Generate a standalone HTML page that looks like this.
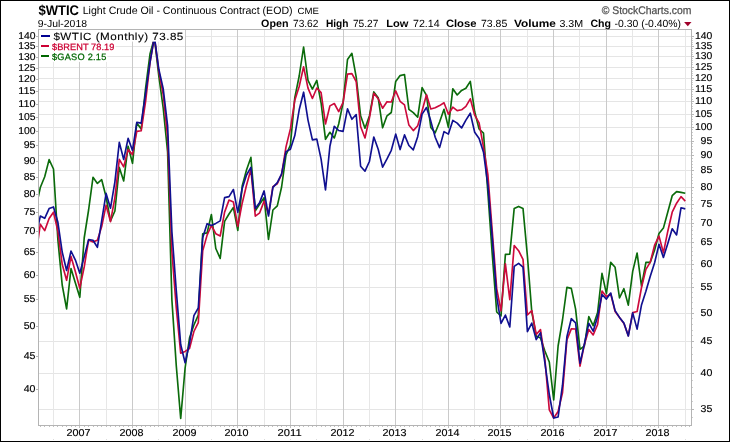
<!DOCTYPE html><html><head><meta charset="utf-8"><title>$WTIC</title>
<style>html,body{margin:0;padding:0;background:#fff}svg{display:block;will-change:transform;opacity:0.999}text.ax{stroke:#000;stroke-width:0.15px}text{text-rendering:geometricPrecision;font-family:"Liberation Sans",sans-serif;fill:#000}</style></head><body>
<svg width="730" height="442" viewBox="0 0 730 442">
<rect x="0" y="0" width="730" height="442" fill="#fff"/>
<g shape-rendering="crispEdges"><line x1="39" x2="691" y1="36.5" y2="36.5" stroke="#e5e5e5" stroke-width="1"/><line x1="39" x2="691" y1="46.5" y2="46.5" stroke="#e5e5e5" stroke-width="1"/><line x1="39" x2="691" y1="56.5" y2="56.5" stroke="#e5e5e5" stroke-width="1"/><line x1="39" x2="691" y1="67.5" y2="67.5" stroke="#e5e5e5" stroke-width="1"/><line x1="39" x2="691" y1="78.5" y2="78.5" stroke="#e5e5e5" stroke-width="1"/><line x1="39" x2="691" y1="89.5" y2="89.5" stroke="#e5e5e5" stroke-width="1"/><line x1="39" x2="691" y1="101.5" y2="101.5" stroke="#e5e5e5" stroke-width="1"/><line x1="39" x2="691" y1="114.5" y2="114.5" stroke="#e5e5e5" stroke-width="1"/><line x1="39" x2="691" y1="127.5" y2="127.5" stroke="#e5e5e5" stroke-width="1"/><line x1="39" x2="691" y1="141.5" y2="141.5" stroke="#e5e5e5" stroke-width="1"/><line x1="39" x2="691" y1="155.5" y2="155.5" stroke="#e5e5e5" stroke-width="1"/><line x1="39" x2="691" y1="170.5" y2="170.5" stroke="#e5e5e5" stroke-width="1"/><line x1="39" x2="691" y1="187.5" y2="187.5" stroke="#e5e5e5" stroke-width="1"/><line x1="39" x2="691" y1="204.5" y2="204.5" stroke="#e5e5e5" stroke-width="1"/><line x1="39" x2="691" y1="223.5" y2="223.5" stroke="#e5e5e5" stroke-width="1"/><line x1="39" x2="691" y1="242.5" y2="242.5" stroke="#e5e5e5" stroke-width="1"/><line x1="39" x2="691" y1="264.5" y2="264.5" stroke="#e5e5e5" stroke-width="1"/><line x1="39" x2="691" y1="287.5" y2="287.5" stroke="#e5e5e5" stroke-width="1"/><line x1="39" x2="691" y1="313.5" y2="313.5" stroke="#e5e5e5" stroke-width="1"/><line x1="39" x2="691" y1="341.5" y2="341.5" stroke="#e5e5e5" stroke-width="1"/><line x1="39" x2="691" y1="373.5" y2="373.5" stroke="#e5e5e5" stroke-width="1"/><line x1="39" x2="691" y1="409.5" y2="409.5" stroke="#e5e5e5" stroke-width="1"/><line x1="79.5" x2="79.5" y1="30" y2="425" stroke="#cacaca" stroke-width="1"/><line x1="132.5" x2="132.5" y1="30" y2="425" stroke="#cacaca" stroke-width="1"/><line x1="185.5" x2="185.5" y1="30" y2="425" stroke="#cacaca" stroke-width="1"/><line x1="237.5" x2="237.5" y1="30" y2="425" stroke="#cacaca" stroke-width="1"/><line x1="290.5" x2="290.5" y1="30" y2="425" stroke="#cacaca" stroke-width="1"/><line x1="343.5" x2="343.5" y1="30" y2="425" stroke="#cacaca" stroke-width="1"/><line x1="395.5" x2="395.5" y1="30" y2="425" stroke="#cacaca" stroke-width="1"/><line x1="448.5" x2="448.5" y1="30" y2="425" stroke="#cacaca" stroke-width="1"/><line x1="500.5" x2="500.5" y1="30" y2="425" stroke="#cacaca" stroke-width="1"/><line x1="553.5" x2="553.5" y1="30" y2="425" stroke="#cacaca" stroke-width="1"/><line x1="606.5" x2="606.5" y1="30" y2="425" stroke="#cacaca" stroke-width="1"/><line x1="658.5" x2="658.5" y1="30" y2="425" stroke="#cacaca" stroke-width="1"/><line x1="53.5" x2="53.5" y1="30" y2="425" stroke="#e7e7e7" stroke-width="1"/><line x1="106.5" x2="106.5" y1="30" y2="425" stroke="#e7e7e7" stroke-width="1"/><line x1="158.5" x2="158.5" y1="30" y2="425" stroke="#e7e7e7" stroke-width="1"/><line x1="211.5" x2="211.5" y1="30" y2="425" stroke="#e7e7e7" stroke-width="1"/><line x1="264.5" x2="264.5" y1="30" y2="425" stroke="#e7e7e7" stroke-width="1"/><line x1="316.5" x2="316.5" y1="30" y2="425" stroke="#e7e7e7" stroke-width="1"/><line x1="369.5" x2="369.5" y1="30" y2="425" stroke="#e7e7e7" stroke-width="1"/><line x1="422.5" x2="422.5" y1="30" y2="425" stroke="#e7e7e7" stroke-width="1"/><line x1="474.5" x2="474.5" y1="30" y2="425" stroke="#e7e7e7" stroke-width="1"/><line x1="527.5" x2="527.5" y1="30" y2="425" stroke="#e7e7e7" stroke-width="1"/><line x1="579.5" x2="579.5" y1="30" y2="425" stroke="#e7e7e7" stroke-width="1"/><line x1="632.5" x2="632.5" y1="30" y2="425" stroke="#e7e7e7" stroke-width="1"/><line x1="685.5" x2="685.5" y1="30" y2="425" stroke="#e7e7e7" stroke-width="1"/></g>
<rect x="38.5" y="29.5" width="653" height="396" fill="none" stroke="#b4b4b4" stroke-width="1" shape-rendering="crispEdges"/>
<g shape-rendering="crispEdges"><line x1="36" x2="38" y1="36.5" y2="36.5" stroke="#b8b8b8"/><line x1="692" x2="694" y1="36.5" y2="36.5" stroke="#b8b8b8"/><line x1="36" x2="38" y1="46.5" y2="46.5" stroke="#b8b8b8"/><line x1="692" x2="694" y1="46.5" y2="46.5" stroke="#b8b8b8"/><line x1="36" x2="38" y1="57.5" y2="57.5" stroke="#b8b8b8"/><line x1="692" x2="694" y1="56.5" y2="56.5" stroke="#b8b8b8"/><line x1="36" x2="38" y1="68.5" y2="68.5" stroke="#b8b8b8"/><line x1="692" x2="694" y1="67.5" y2="67.5" stroke="#b8b8b8"/><line x1="36" x2="38" y1="79.5" y2="79.5" stroke="#b8b8b8"/><line x1="692" x2="694" y1="78.5" y2="78.5" stroke="#b8b8b8"/><line x1="36" x2="38" y1="91.5" y2="91.5" stroke="#b8b8b8"/><line x1="692" x2="694" y1="89.5" y2="89.5" stroke="#b8b8b8"/><line x1="36" x2="38" y1="104.5" y2="104.5" stroke="#b8b8b8"/><line x1="692" x2="694" y1="101.5" y2="101.5" stroke="#b8b8b8"/><line x1="36" x2="38" y1="117.5" y2="117.5" stroke="#b8b8b8"/><line x1="692" x2="694" y1="114.5" y2="114.5" stroke="#b8b8b8"/><line x1="36" x2="38" y1="131.5" y2="131.5" stroke="#b8b8b8"/><line x1="692" x2="694" y1="127.5" y2="127.5" stroke="#b8b8b8"/><line x1="36" x2="38" y1="145.5" y2="145.5" stroke="#b8b8b8"/><line x1="692" x2="694" y1="141.5" y2="141.5" stroke="#b8b8b8"/><line x1="36" x2="38" y1="161.5" y2="161.5" stroke="#b8b8b8"/><line x1="692" x2="694" y1="155.5" y2="155.5" stroke="#b8b8b8"/><line x1="36" x2="38" y1="177.5" y2="177.5" stroke="#b8b8b8"/><line x1="692" x2="694" y1="170.5" y2="170.5" stroke="#b8b8b8"/><line x1="36" x2="38" y1="194.5" y2="194.5" stroke="#b8b8b8"/><line x1="692" x2="694" y1="187.5" y2="187.5" stroke="#b8b8b8"/><line x1="36" x2="38" y1="212.5" y2="212.5" stroke="#b8b8b8"/><line x1="692" x2="694" y1="204.5" y2="204.5" stroke="#b8b8b8"/><line x1="36" x2="38" y1="231.5" y2="231.5" stroke="#b8b8b8"/><line x1="692" x2="694" y1="223.5" y2="223.5" stroke="#b8b8b8"/><line x1="36" x2="38" y1="252.5" y2="252.5" stroke="#b8b8b8"/><line x1="692" x2="694" y1="242.5" y2="242.5" stroke="#b8b8b8"/><line x1="36" x2="38" y1="275.5" y2="275.5" stroke="#b8b8b8"/><line x1="692" x2="694" y1="264.5" y2="264.5" stroke="#b8b8b8"/><line x1="36" x2="38" y1="299.5" y2="299.5" stroke="#b8b8b8"/><line x1="692" x2="694" y1="287.5" y2="287.5" stroke="#b8b8b8"/><line x1="36" x2="38" y1="326.5" y2="326.5" stroke="#b8b8b8"/><line x1="692" x2="694" y1="313.5" y2="313.5" stroke="#b8b8b8"/><line x1="36" x2="38" y1="356.5" y2="356.5" stroke="#b8b8b8"/><line x1="692" x2="694" y1="341.5" y2="341.5" stroke="#b8b8b8"/><line x1="36" x2="38" y1="389.5" y2="389.5" stroke="#b8b8b8"/><line x1="692" x2="694" y1="373.5" y2="373.5" stroke="#b8b8b8"/><line x1="692" x2="694" y1="409.5" y2="409.5" stroke="#b8b8b8"/><line x1="692" x2="693" y1="417.5" y2="417.5" stroke="#cfcfcf"/><line x1="692" x2="693" y1="401.5" y2="401.5" stroke="#cfcfcf"/><line x1="692" x2="693" y1="394.5" y2="394.5" stroke="#cfcfcf"/><line x1="692" x2="693" y1="387.5" y2="387.5" stroke="#cfcfcf"/><line x1="692" x2="693" y1="380.5" y2="380.5" stroke="#cfcfcf"/><line x1="692" x2="693" y1="366.5" y2="366.5" stroke="#cfcfcf"/><line x1="692" x2="693" y1="360.5" y2="360.5" stroke="#cfcfcf"/><line x1="692" x2="693" y1="354.5" y2="354.5" stroke="#cfcfcf"/><line x1="692" x2="693" y1="347.5" y2="347.5" stroke="#cfcfcf"/><line x1="692" x2="693" y1="335.5" y2="335.5" stroke="#cfcfcf"/><line x1="692" x2="693" y1="330.5" y2="330.5" stroke="#cfcfcf"/><line x1="692" x2="693" y1="324.5" y2="324.5" stroke="#cfcfcf"/><line x1="692" x2="693" y1="318.5" y2="318.5" stroke="#cfcfcf"/><line x1="692" x2="693" y1="308.5" y2="308.5" stroke="#cfcfcf"/><line x1="692" x2="693" y1="302.5" y2="302.5" stroke="#cfcfcf"/><line x1="692" x2="693" y1="297.5" y2="297.5" stroke="#cfcfcf"/><line x1="692" x2="693" y1="292.5" y2="292.5" stroke="#cfcfcf"/><line x1="692" x2="693" y1="283.5" y2="283.5" stroke="#cfcfcf"/><line x1="692" x2="693" y1="278.5" y2="278.5" stroke="#cfcfcf"/><line x1="692" x2="693" y1="273.5" y2="273.5" stroke="#cfcfcf"/><line x1="692" x2="693" y1="269.5" y2="269.5" stroke="#cfcfcf"/><line x1="692" x2="693" y1="260.5" y2="260.5" stroke="#cfcfcf"/><line x1="692" x2="693" y1="255.5" y2="255.5" stroke="#cfcfcf"/><line x1="692" x2="693" y1="251.5" y2="251.5" stroke="#cfcfcf"/><line x1="692" x2="693" y1="247.5" y2="247.5" stroke="#cfcfcf"/><line x1="692" x2="693" y1="238.5" y2="238.5" stroke="#cfcfcf"/><line x1="692" x2="693" y1="234.5" y2="234.5" stroke="#cfcfcf"/><line x1="692" x2="693" y1="230.5" y2="230.5" stroke="#cfcfcf"/><line x1="692" x2="693" y1="226.5" y2="226.5" stroke="#cfcfcf"/><line x1="692" x2="693" y1="219.5" y2="219.5" stroke="#cfcfcf"/><line x1="692" x2="693" y1="215.5" y2="215.5" stroke="#cfcfcf"/><line x1="692" x2="693" y1="211.5" y2="211.5" stroke="#cfcfcf"/><line x1="692" x2="693" y1="208.5" y2="208.5" stroke="#cfcfcf"/><line x1="692" x2="693" y1="200.5" y2="200.5" stroke="#cfcfcf"/><line x1="692" x2="693" y1="197.5" y2="197.5" stroke="#cfcfcf"/><line x1="692" x2="693" y1="193.5" y2="193.5" stroke="#cfcfcf"/><line x1="692" x2="693" y1="190.5" y2="190.5" stroke="#cfcfcf"/><line x1="692" x2="693" y1="183.5" y2="183.5" stroke="#cfcfcf"/><line x1="692" x2="693" y1="180.5" y2="180.5" stroke="#cfcfcf"/><line x1="692" x2="693" y1="177.5" y2="177.5" stroke="#cfcfcf"/><line x1="692" x2="693" y1="174.5" y2="174.5" stroke="#cfcfcf"/><line x1="692" x2="693" y1="167.5" y2="167.5" stroke="#cfcfcf"/><line x1="692" x2="693" y1="164.5" y2="164.5" stroke="#cfcfcf"/><line x1="692" x2="693" y1="161.5" y2="161.5" stroke="#cfcfcf"/><line x1="692" x2="693" y1="158.5" y2="158.5" stroke="#cfcfcf"/><line x1="692" x2="693" y1="152.5" y2="152.5" stroke="#cfcfcf"/><line x1="692" x2="693" y1="149.5" y2="149.5" stroke="#cfcfcf"/><line x1="692" x2="693" y1="146.5" y2="146.5" stroke="#cfcfcf"/><line x1="692" x2="693" y1="143.5" y2="143.5" stroke="#cfcfcf"/><line x1="692" x2="693" y1="138.5" y2="138.5" stroke="#cfcfcf"/><line x1="692" x2="693" y1="135.5" y2="135.5" stroke="#cfcfcf"/><line x1="692" x2="693" y1="132.5" y2="132.5" stroke="#cfcfcf"/><line x1="692" x2="693" y1="129.5" y2="129.5" stroke="#cfcfcf"/><line x1="692" x2="693" y1="124.5" y2="124.5" stroke="#cfcfcf"/><line x1="692" x2="693" y1="121.5" y2="121.5" stroke="#cfcfcf"/><line x1="692" x2="693" y1="119.5" y2="119.5" stroke="#cfcfcf"/><line x1="692" x2="693" y1="116.5" y2="116.5" stroke="#cfcfcf"/><line x1="692" x2="693" y1="111.5" y2="111.5" stroke="#cfcfcf"/><line x1="692" x2="693" y1="108.5" y2="108.5" stroke="#cfcfcf"/><line x1="692" x2="693" y1="106.5" y2="106.5" stroke="#cfcfcf"/><line x1="692" x2="693" y1="103.5" y2="103.5" stroke="#cfcfcf"/><line x1="692" x2="693" y1="99.5" y2="99.5" stroke="#cfcfcf"/><line x1="692" x2="693" y1="96.5" y2="96.5" stroke="#cfcfcf"/><line x1="692" x2="693" y1="94.5" y2="94.5" stroke="#cfcfcf"/><line x1="692" x2="693" y1="91.5" y2="91.5" stroke="#cfcfcf"/><line x1="692" x2="693" y1="87.5" y2="87.5" stroke="#cfcfcf"/><line x1="692" x2="693" y1="84.5" y2="84.5" stroke="#cfcfcf"/><line x1="692" x2="693" y1="82.5" y2="82.5" stroke="#cfcfcf"/><line x1="692" x2="693" y1="80.5" y2="80.5" stroke="#cfcfcf"/><line x1="692" x2="693" y1="75.5" y2="75.5" stroke="#cfcfcf"/><line x1="692" x2="693" y1="73.5" y2="73.5" stroke="#cfcfcf"/><line x1="692" x2="693" y1="71.5" y2="71.5" stroke="#cfcfcf"/><line x1="692" x2="693" y1="69.5" y2="69.5" stroke="#cfcfcf"/><line x1="692" x2="693" y1="64.5" y2="64.5" stroke="#cfcfcf"/><line x1="692" x2="693" y1="62.5" y2="62.5" stroke="#cfcfcf"/><line x1="692" x2="693" y1="60.5" y2="60.5" stroke="#cfcfcf"/><line x1="692" x2="693" y1="58.5" y2="58.5" stroke="#cfcfcf"/><line x1="692" x2="693" y1="54.5" y2="54.5" stroke="#cfcfcf"/><line x1="692" x2="693" y1="52.5" y2="52.5" stroke="#cfcfcf"/><line x1="692" x2="693" y1="50.5" y2="50.5" stroke="#cfcfcf"/><line x1="692" x2="693" y1="48.5" y2="48.5" stroke="#cfcfcf"/><line x1="692" x2="693" y1="44.5" y2="44.5" stroke="#cfcfcf"/><line x1="692" x2="693" y1="42.5" y2="42.5" stroke="#cfcfcf"/><line x1="692" x2="693" y1="40.5" y2="40.5" stroke="#cfcfcf"/><line x1="692" x2="693" y1="38.5" y2="38.5" stroke="#cfcfcf"/><line x1="40.5" x2="40.5" y1="426" y2="427" stroke="#c0c0c0"/><line x1="44.5" x2="44.5" y1="426" y2="427" stroke="#c0c0c0"/><line x1="49.5" x2="49.5" y1="426" y2="427" stroke="#c0c0c0"/><line x1="53.5" x2="53.5" y1="426" y2="427" stroke="#c0c0c0"/><line x1="57.5" x2="57.5" y1="426" y2="427" stroke="#c0c0c0"/><line x1="62.5" x2="62.5" y1="426" y2="427" stroke="#c0c0c0"/><line x1="66.5" x2="66.5" y1="426" y2="427" stroke="#c0c0c0"/><line x1="71.5" x2="71.5" y1="426" y2="427" stroke="#c0c0c0"/><line x1="75.5" x2="75.5" y1="426" y2="427" stroke="#c0c0c0"/><line x1="79.5" x2="79.5" y1="426" y2="428" stroke="#c0c0c0"/><line x1="84.5" x2="84.5" y1="426" y2="427" stroke="#c0c0c0"/><line x1="88.5" x2="88.5" y1="426" y2="427" stroke="#c0c0c0"/><line x1="93.5" x2="93.5" y1="426" y2="427" stroke="#c0c0c0"/><line x1="97.5" x2="97.5" y1="426" y2="427" stroke="#c0c0c0"/><line x1="101.5" x2="101.5" y1="426" y2="427" stroke="#c0c0c0"/><line x1="106.5" x2="106.5" y1="426" y2="427" stroke="#c0c0c0"/><line x1="110.5" x2="110.5" y1="426" y2="427" stroke="#c0c0c0"/><line x1="115.5" x2="115.5" y1="426" y2="427" stroke="#c0c0c0"/><line x1="119.5" x2="119.5" y1="426" y2="427" stroke="#c0c0c0"/><line x1="123.5" x2="123.5" y1="426" y2="427" stroke="#c0c0c0"/><line x1="128.5" x2="128.5" y1="426" y2="427" stroke="#c0c0c0"/><line x1="132.5" x2="132.5" y1="426" y2="428" stroke="#c0c0c0"/><line x1="136.5" x2="136.5" y1="426" y2="427" stroke="#c0c0c0"/><line x1="141.5" x2="141.5" y1="426" y2="427" stroke="#c0c0c0"/><line x1="145.5" x2="145.5" y1="426" y2="427" stroke="#c0c0c0"/><line x1="150.5" x2="150.5" y1="426" y2="427" stroke="#c0c0c0"/><line x1="154.5" x2="154.5" y1="426" y2="427" stroke="#c0c0c0"/><line x1="158.5" x2="158.5" y1="426" y2="427" stroke="#c0c0c0"/><line x1="163.5" x2="163.5" y1="426" y2="427" stroke="#c0c0c0"/><line x1="167.5" x2="167.5" y1="426" y2="427" stroke="#c0c0c0"/><line x1="172.5" x2="172.5" y1="426" y2="427" stroke="#c0c0c0"/><line x1="176.5" x2="176.5" y1="426" y2="427" stroke="#c0c0c0"/><line x1="180.5" x2="180.5" y1="426" y2="427" stroke="#c0c0c0"/><line x1="185.5" x2="185.5" y1="426" y2="428" stroke="#c0c0c0"/><line x1="189.5" x2="189.5" y1="426" y2="427" stroke="#c0c0c0"/><line x1="193.5" x2="193.5" y1="426" y2="427" stroke="#c0c0c0"/><line x1="198.5" x2="198.5" y1="426" y2="427" stroke="#c0c0c0"/><line x1="202.5" x2="202.5" y1="426" y2="427" stroke="#c0c0c0"/><line x1="207.5" x2="207.5" y1="426" y2="427" stroke="#c0c0c0"/><line x1="211.5" x2="211.5" y1="426" y2="427" stroke="#c0c0c0"/><line x1="215.5" x2="215.5" y1="426" y2="427" stroke="#c0c0c0"/><line x1="220.5" x2="220.5" y1="426" y2="427" stroke="#c0c0c0"/><line x1="224.5" x2="224.5" y1="426" y2="427" stroke="#c0c0c0"/><line x1="229.5" x2="229.5" y1="426" y2="427" stroke="#c0c0c0"/><line x1="233.5" x2="233.5" y1="426" y2="427" stroke="#c0c0c0"/><line x1="237.5" x2="237.5" y1="426" y2="428" stroke="#c0c0c0"/><line x1="242.5" x2="242.5" y1="426" y2="427" stroke="#c0c0c0"/><line x1="246.5" x2="246.5" y1="426" y2="427" stroke="#c0c0c0"/><line x1="251.5" x2="251.5" y1="426" y2="427" stroke="#c0c0c0"/><line x1="255.5" x2="255.5" y1="426" y2="427" stroke="#c0c0c0"/><line x1="259.5" x2="259.5" y1="426" y2="427" stroke="#c0c0c0"/><line x1="264.5" x2="264.5" y1="426" y2="427" stroke="#c0c0c0"/><line x1="268.5" x2="268.5" y1="426" y2="427" stroke="#c0c0c0"/><line x1="272.5" x2="272.5" y1="426" y2="427" stroke="#c0c0c0"/><line x1="277.5" x2="277.5" y1="426" y2="427" stroke="#c0c0c0"/><line x1="281.5" x2="281.5" y1="426" y2="427" stroke="#c0c0c0"/><line x1="286.5" x2="286.5" y1="426" y2="427" stroke="#c0c0c0"/><line x1="290.5" x2="290.5" y1="426" y2="428" stroke="#c0c0c0"/><line x1="294.5" x2="294.5" y1="426" y2="427" stroke="#c0c0c0"/><line x1="299.5" x2="299.5" y1="426" y2="427" stroke="#c0c0c0"/><line x1="303.5" x2="303.5" y1="426" y2="427" stroke="#c0c0c0"/><line x1="308.5" x2="308.5" y1="426" y2="427" stroke="#c0c0c0"/><line x1="312.5" x2="312.5" y1="426" y2="427" stroke="#c0c0c0"/><line x1="316.5" x2="316.5" y1="426" y2="427" stroke="#c0c0c0"/><line x1="321.5" x2="321.5" y1="426" y2="427" stroke="#c0c0c0"/><line x1="325.5" x2="325.5" y1="426" y2="427" stroke="#c0c0c0"/><line x1="330.5" x2="330.5" y1="426" y2="427" stroke="#c0c0c0"/><line x1="334.5" x2="334.5" y1="426" y2="427" stroke="#c0c0c0"/><line x1="338.5" x2="338.5" y1="426" y2="427" stroke="#c0c0c0"/><line x1="343.5" x2="343.5" y1="426" y2="428" stroke="#c0c0c0"/><line x1="347.5" x2="347.5" y1="426" y2="427" stroke="#c0c0c0"/><line x1="351.5" x2="351.5" y1="426" y2="427" stroke="#c0c0c0"/><line x1="356.5" x2="356.5" y1="426" y2="427" stroke="#c0c0c0"/><line x1="360.5" x2="360.5" y1="426" y2="427" stroke="#c0c0c0"/><line x1="365.5" x2="365.5" y1="426" y2="427" stroke="#c0c0c0"/><line x1="369.5" x2="369.5" y1="426" y2="427" stroke="#c0c0c0"/><line x1="373.5" x2="373.5" y1="426" y2="427" stroke="#c0c0c0"/><line x1="378.5" x2="378.5" y1="426" y2="427" stroke="#c0c0c0"/><line x1="382.5" x2="382.5" y1="426" y2="427" stroke="#c0c0c0"/><line x1="387.5" x2="387.5" y1="426" y2="427" stroke="#c0c0c0"/><line x1="391.5" x2="391.5" y1="426" y2="427" stroke="#c0c0c0"/><line x1="395.5" x2="395.5" y1="426" y2="428" stroke="#c0c0c0"/><line x1="400.5" x2="400.5" y1="426" y2="427" stroke="#c0c0c0"/><line x1="404.5" x2="404.5" y1="426" y2="427" stroke="#c0c0c0"/><line x1="409.5" x2="409.5" y1="426" y2="427" stroke="#c0c0c0"/><line x1="413.5" x2="413.5" y1="426" y2="427" stroke="#c0c0c0"/><line x1="417.5" x2="417.5" y1="426" y2="427" stroke="#c0c0c0"/><line x1="422.5" x2="422.5" y1="426" y2="427" stroke="#c0c0c0"/><line x1="426.5" x2="426.5" y1="426" y2="427" stroke="#c0c0c0"/><line x1="430.5" x2="430.5" y1="426" y2="427" stroke="#c0c0c0"/><line x1="435.5" x2="435.5" y1="426" y2="427" stroke="#c0c0c0"/><line x1="439.5" x2="439.5" y1="426" y2="427" stroke="#c0c0c0"/><line x1="444.5" x2="444.5" y1="426" y2="427" stroke="#c0c0c0"/><line x1="448.5" x2="448.5" y1="426" y2="428" stroke="#c0c0c0"/><line x1="452.5" x2="452.5" y1="426" y2="427" stroke="#c0c0c0"/><line x1="457.5" x2="457.5" y1="426" y2="427" stroke="#c0c0c0"/><line x1="461.5" x2="461.5" y1="426" y2="427" stroke="#c0c0c0"/><line x1="466.5" x2="466.5" y1="426" y2="427" stroke="#c0c0c0"/><line x1="470.5" x2="470.5" y1="426" y2="427" stroke="#c0c0c0"/><line x1="474.5" x2="474.5" y1="426" y2="427" stroke="#c0c0c0"/><line x1="479.5" x2="479.5" y1="426" y2="427" stroke="#c0c0c0"/><line x1="483.5" x2="483.5" y1="426" y2="427" stroke="#c0c0c0"/><line x1="488.5" x2="488.5" y1="426" y2="427" stroke="#c0c0c0"/><line x1="492.5" x2="492.5" y1="426" y2="427" stroke="#c0c0c0"/><line x1="496.5" x2="496.5" y1="426" y2="427" stroke="#c0c0c0"/><line x1="500.5" x2="500.5" y1="426" y2="428" stroke="#c0c0c0"/><line x1="505.5" x2="505.5" y1="426" y2="427" stroke="#c0c0c0"/><line x1="509.5" x2="509.5" y1="426" y2="427" stroke="#c0c0c0"/><line x1="514.5" x2="514.5" y1="426" y2="427" stroke="#c0c0c0"/><line x1="518.5" x2="518.5" y1="426" y2="427" stroke="#c0c0c0"/><line x1="523.5" x2="523.5" y1="426" y2="427" stroke="#c0c0c0"/><line x1="527.5" x2="527.5" y1="426" y2="427" stroke="#c0c0c0"/><line x1="531.5" x2="531.5" y1="426" y2="427" stroke="#c0c0c0"/><line x1="536.5" x2="536.5" y1="426" y2="427" stroke="#c0c0c0"/><line x1="540.5" x2="540.5" y1="426" y2="427" stroke="#c0c0c0"/><line x1="545.5" x2="545.5" y1="426" y2="427" stroke="#c0c0c0"/><line x1="549.5" x2="549.5" y1="426" y2="427" stroke="#c0c0c0"/><line x1="553.5" x2="553.5" y1="426" y2="428" stroke="#c0c0c0"/><line x1="558.5" x2="558.5" y1="426" y2="427" stroke="#c0c0c0"/><line x1="562.5" x2="562.5" y1="426" y2="427" stroke="#c0c0c0"/><line x1="567.5" x2="567.5" y1="426" y2="427" stroke="#c0c0c0"/><line x1="571.5" x2="571.5" y1="426" y2="427" stroke="#c0c0c0"/><line x1="575.5" x2="575.5" y1="426" y2="427" stroke="#c0c0c0"/><line x1="580.5" x2="580.5" y1="426" y2="427" stroke="#c0c0c0"/><line x1="584.5" x2="584.5" y1="426" y2="427" stroke="#c0c0c0"/><line x1="588.5" x2="588.5" y1="426" y2="427" stroke="#c0c0c0"/><line x1="593.5" x2="593.5" y1="426" y2="427" stroke="#c0c0c0"/><line x1="597.5" x2="597.5" y1="426" y2="427" stroke="#c0c0c0"/><line x1="602.5" x2="602.5" y1="426" y2="427" stroke="#c0c0c0"/><line x1="606.5" x2="606.5" y1="426" y2="428" stroke="#c0c0c0"/><line x1="610.5" x2="610.5" y1="426" y2="427" stroke="#c0c0c0"/><line x1="615.5" x2="615.5" y1="426" y2="427" stroke="#c0c0c0"/><line x1="619.5" x2="619.5" y1="426" y2="427" stroke="#c0c0c0"/><line x1="624.5" x2="624.5" y1="426" y2="427" stroke="#c0c0c0"/><line x1="628.5" x2="628.5" y1="426" y2="427" stroke="#c0c0c0"/><line x1="632.5" x2="632.5" y1="426" y2="427" stroke="#c0c0c0"/><line x1="637.5" x2="637.5" y1="426" y2="427" stroke="#c0c0c0"/><line x1="641.5" x2="641.5" y1="426" y2="427" stroke="#c0c0c0"/><line x1="645.5" x2="645.5" y1="426" y2="427" stroke="#c0c0c0"/><line x1="650.5" x2="650.5" y1="426" y2="427" stroke="#c0c0c0"/><line x1="654.5" x2="654.5" y1="426" y2="427" stroke="#c0c0c0"/><line x1="658.5" x2="658.5" y1="426" y2="428" stroke="#c0c0c0"/><line x1="663.5" x2="663.5" y1="426" y2="427" stroke="#c0c0c0"/><line x1="667.5" x2="667.5" y1="426" y2="427" stroke="#c0c0c0"/><line x1="672.5" x2="672.5" y1="426" y2="427" stroke="#c0c0c0"/><line x1="676.5" x2="676.5" y1="426" y2="427" stroke="#c0c0c0"/><line x1="681.5" x2="681.5" y1="426" y2="427" stroke="#c0c0c0"/><line x1="685.5" x2="685.5" y1="426" y2="427" stroke="#c0c0c0"/><line x1="689.5" x2="689.5" y1="426" y2="427" stroke="#c0c0c0"/></g>
<text x="18.2" y="38.9" font-size="10" textLength="17.3" lengthAdjust="spacingAndGlyphs" class="ax">140</text>
<text x="695.1" y="38.9" font-size="10" textLength="17.3" lengthAdjust="spacingAndGlyphs" class="ax">140</text>
<text x="18.2" y="48.9" font-size="10" textLength="17.3" lengthAdjust="spacingAndGlyphs" class="ax">135</text>
<text x="695.1" y="48.9" font-size="10" textLength="17.3" lengthAdjust="spacingAndGlyphs" class="ax">135</text>
<text x="18.2" y="59.9" font-size="10" textLength="17.3" lengthAdjust="spacingAndGlyphs" class="ax">130</text>
<text x="695.1" y="58.9" font-size="10" textLength="17.3" lengthAdjust="spacingAndGlyphs" class="ax">130</text>
<text x="18.2" y="70.9" font-size="10" textLength="17.3" lengthAdjust="spacingAndGlyphs" class="ax">125</text>
<text x="695.1" y="69.9" font-size="10" textLength="17.3" lengthAdjust="spacingAndGlyphs" class="ax">125</text>
<text x="18.2" y="81.9" font-size="10" textLength="17.3" lengthAdjust="spacingAndGlyphs" class="ax">120</text>
<text x="695.1" y="80.9" font-size="10" textLength="17.3" lengthAdjust="spacingAndGlyphs" class="ax">120</text>
<text x="18.2" y="93.9" font-size="10" textLength="17.3" lengthAdjust="spacingAndGlyphs" class="ax">115</text>
<text x="695.1" y="91.9" font-size="10" textLength="17.3" lengthAdjust="spacingAndGlyphs" class="ax">115</text>
<text x="18.2" y="106.9" font-size="10" textLength="17.3" lengthAdjust="spacingAndGlyphs" class="ax">110</text>
<text x="695.1" y="103.9" font-size="10" textLength="17.3" lengthAdjust="spacingAndGlyphs" class="ax">110</text>
<text x="18.2" y="119.9" font-size="10" textLength="17.3" lengthAdjust="spacingAndGlyphs" class="ax">105</text>
<text x="695.1" y="116.9" font-size="10" textLength="17.3" lengthAdjust="spacingAndGlyphs" class="ax">105</text>
<text x="18.2" y="133.9" font-size="10" textLength="17.3" lengthAdjust="spacingAndGlyphs" class="ax">100</text>
<text x="695.1" y="129.9" font-size="10" textLength="17.3" lengthAdjust="spacingAndGlyphs" class="ax">100</text>
<text x="23.7" y="147.9" font-size="10" textLength="11.8" lengthAdjust="spacingAndGlyphs" class="ax">95</text>
<text x="700.6" y="143.9" font-size="10" textLength="11.8" lengthAdjust="spacingAndGlyphs" class="ax">95</text>
<text x="23.7" y="163.9" font-size="10" textLength="11.8" lengthAdjust="spacingAndGlyphs" class="ax">90</text>
<text x="700.6" y="157.9" font-size="10" textLength="11.8" lengthAdjust="spacingAndGlyphs" class="ax">90</text>
<text x="23.7" y="179.9" font-size="10" textLength="11.8" lengthAdjust="spacingAndGlyphs" class="ax">85</text>
<text x="700.6" y="172.9" font-size="10" textLength="11.8" lengthAdjust="spacingAndGlyphs" class="ax">85</text>
<text x="23.7" y="196.9" font-size="10" textLength="11.8" lengthAdjust="spacingAndGlyphs" class="ax">80</text>
<text x="700.6" y="189.9" font-size="10" textLength="11.8" lengthAdjust="spacingAndGlyphs" class="ax">80</text>
<text x="23.7" y="214.9" font-size="10" textLength="11.8" lengthAdjust="spacingAndGlyphs" class="ax">75</text>
<text x="700.6" y="206.9" font-size="10" textLength="11.8" lengthAdjust="spacingAndGlyphs" class="ax">75</text>
<text x="23.7" y="233.9" font-size="10" textLength="11.8" lengthAdjust="spacingAndGlyphs" class="ax">70</text>
<text x="700.6" y="225.9" font-size="10" textLength="11.8" lengthAdjust="spacingAndGlyphs" class="ax">70</text>
<text x="23.7" y="254.9" font-size="10" textLength="11.8" lengthAdjust="spacingAndGlyphs" class="ax">65</text>
<text x="700.6" y="244.9" font-size="10" textLength="11.8" lengthAdjust="spacingAndGlyphs" class="ax">65</text>
<text x="23.7" y="277.9" font-size="10" textLength="11.8" lengthAdjust="spacingAndGlyphs" class="ax">60</text>
<text x="700.6" y="266.9" font-size="10" textLength="11.8" lengthAdjust="spacingAndGlyphs" class="ax">60</text>
<text x="23.7" y="301.9" font-size="10" textLength="11.8" lengthAdjust="spacingAndGlyphs" class="ax">55</text>
<text x="700.6" y="289.9" font-size="10" textLength="11.8" lengthAdjust="spacingAndGlyphs" class="ax">55</text>
<text x="23.7" y="328.9" font-size="10" textLength="11.8" lengthAdjust="spacingAndGlyphs" class="ax">50</text>
<text x="700.6" y="315.9" font-size="10" textLength="11.8" lengthAdjust="spacingAndGlyphs" class="ax">50</text>
<text x="23.7" y="358.9" font-size="10" textLength="11.8" lengthAdjust="spacingAndGlyphs" class="ax">45</text>
<text x="700.6" y="343.9" font-size="10" textLength="11.8" lengthAdjust="spacingAndGlyphs" class="ax">45</text>
<text x="23.7" y="391.9" font-size="10" textLength="11.8" lengthAdjust="spacingAndGlyphs" class="ax">40</text>
<text x="700.6" y="375.9" font-size="10" textLength="11.8" lengthAdjust="spacingAndGlyphs" class="ax">40</text>
<text x="700.6" y="411.9" font-size="10" textLength="11.8" lengthAdjust="spacingAndGlyphs" class="ax">35</text>
<text x="66.6" y="436" font-size="10" textLength="24" lengthAdjust="spacingAndGlyphs" class="ax">2007</text>
<text x="119.6" y="436" font-size="10" textLength="24" lengthAdjust="spacingAndGlyphs" class="ax">2008</text>
<text x="172.6" y="436" font-size="10" textLength="24" lengthAdjust="spacingAndGlyphs" class="ax">2009</text>
<text x="224.6" y="436" font-size="10" textLength="24" lengthAdjust="spacingAndGlyphs" class="ax">2010</text>
<text x="277.6" y="436" font-size="10" textLength="24" lengthAdjust="spacingAndGlyphs" class="ax">2011</text>
<text x="330.6" y="436" font-size="10" textLength="24" lengthAdjust="spacingAndGlyphs" class="ax">2012</text>
<text x="382.6" y="436" font-size="10" textLength="24" lengthAdjust="spacingAndGlyphs" class="ax">2013</text>
<text x="435.6" y="436" font-size="10" textLength="24" lengthAdjust="spacingAndGlyphs" class="ax">2014</text>
<text x="487.6" y="436" font-size="10" textLength="24" lengthAdjust="spacingAndGlyphs" class="ax">2015</text>
<text x="540.6" y="436" font-size="10" textLength="24" lengthAdjust="spacingAndGlyphs" class="ax">2016</text>
<text x="593.6" y="436" font-size="10" textLength="24" lengthAdjust="spacingAndGlyphs" class="ax">2017</text>
<text x="645.6" y="436" font-size="10" textLength="24" lengthAdjust="spacingAndGlyphs" class="ax">2018</text>
<clipPath id="c"><rect x="39" y="30" width="652" height="395"/></clipPath>
<g clip-path="url(#c)">
<polyline points="35.9,208.0 40.3,187.5 44.7,176.7 49.1,159.6 53.5,169.0 57.9,240.0 62.2,285.0 66.6,308.9 71.0,268.5 75.4,283.0 79.8,297.3 84.2,238.0 88.6,210.0 93.0,177.3 97.4,183.4 101.7,179.7 106.1,197.0 110.5,221.0 114.9,211.0 119.3,167.4 123.7,181.0 128.1,146.2 132.5,163.3 136.8,123.0 141.2,129.0 145.6,88.0 150.0,54.0 154.4,38.0 158.8,76.0 163.2,108.0 167.6,152.0 171.9,300.0 176.3,366.0 180.7,418.5 185.1,368.0 189.5,338.0 193.9,325.0 198.3,315.2 202.7,233.7 207.1,232.9 211.4,214.5 215.8,248.5 220.2,258.4 224.6,221.4 229.0,214.0 233.4,207.5 237.8,230.4 242.2,186.0 246.5,170.0 250.9,157.4 255.3,210.8 259.7,204.0 264.1,197.7 268.5,239.5 272.9,210.0 277.3,205.9 281.6,187.0 286.0,155.0 290.4,145.0 294.8,97.7 299.2,76.0 303.6,47.0 308.0,80.4 312.4,89.1 316.8,80.4 321.1,103.0 325.5,139.3 329.9,132.3 334.3,138.0 338.7,124.0 343.1,102.6 347.5,59.5 351.9,53.3 356.2,77.1 360.6,115.8 365.0,128.2 369.4,116.0 373.8,91.9 378.2,97.7 382.6,127.8 387.0,115.8 391.3,112.5 395.7,81.4 400.1,75.6 404.5,74.5 408.9,109.3 413.3,112.6 417.7,117.2 422.1,87.6 426.5,95.3 430.8,127.4 435.2,132.8 439.6,122.0 444.0,109.3 448.4,127.4 452.8,88.8 457.2,95.0 461.6,90.4 465.9,88.3 470.3,81.4 474.7,111.8 479.1,129.0 483.5,133.2 487.9,193.0 492.3,255.0 496.7,312.0 501.0,316.0 505.4,254.4 509.8,254.1 514.2,208.4 518.6,206.4 523.0,208.4 527.4,256.0 531.8,312.0 536.2,336.0 540.5,338.0 544.9,351.0 549.3,362.0 553.7,400.0 558.1,346.0 562.5,320.0 566.9,287.4 571.3,288.4 575.6,309.2 580.0,349.3 584.4,346.0 588.8,316.6 593.2,325.7 597.6,312.5 602.0,273.4 606.4,293.6 610.7,262.4 615.1,267.3 619.5,298.0 623.9,288.7 628.3,305.1 632.7,271.4 637.1,253.0 641.5,286.2 645.9,262.4 650.2,262.4 654.6,250.0 659.0,233.5 663.4,228.1 667.8,212.0 672.2,195.7 676.6,191.6 681.0,192.4 685.3,193.2" fill="none" stroke="#0b6b0b" stroke-width="1.65" stroke-linejoin="round" stroke-linecap="butt"/>
<polyline points="35.9,256.0 40.3,224.2 44.7,230.6 49.1,218.5 53.5,212.2 57.9,231.3 62.2,264.3 66.6,280.3 71.0,256.4 75.4,271.7 79.8,288.2 84.2,267.0 88.6,240.0 93.0,241.9 97.4,240.3 101.7,226.6 106.1,205.2 110.5,221.6 114.9,197.6 119.3,159.4 123.7,166.9 128.1,149.6 132.5,154.6 136.8,131.4 141.2,130.8 145.6,101.3 150.0,62.6 154.4,37.1 158.8,71.1 163.2,94.6 167.6,136.9 171.9,251.8 176.3,308.1 180.7,353.2 185.1,351.4 189.5,348.5 193.9,331.5 198.3,322.7 202.7,250.9 207.1,235.1 211.4,225.5 215.8,233.7 220.2,236.0 224.6,212.1 229.0,200.1 233.4,202.0 237.8,226.4 242.2,203.2 246.5,185.3 250.9,169.5 255.3,216.1 259.7,212.8 264.1,201.1 268.5,214.2 272.9,186.6 277.3,183.7 281.6,174.5 286.0,146.9 290.4,128.9 294.8,100.2 299.2,86.5 303.6,66.8 308.0,88.1 312.4,98.5 316.8,88.0 321.1,92.6 325.5,124.0 329.9,105.9 334.3,103.5 338.7,111.6 343.1,102.3 347.5,74.1 351.9,73.6 356.2,81.5 360.6,126.5 365.0,138.0 369.4,118.1 373.8,93.3 378.2,98.7 382.6,108.2 387.0,101.7 391.3,102.0 395.7,90.9 400.1,101.3 404.5,104.8 408.9,125.1 413.3,130.6 417.7,125.7 422.1,110.8 426.5,94.7 430.8,109.0 435.2,107.8 439.6,105.6 444.0,102.8 448.4,114.2 452.8,107.2 457.2,110.6 461.6,109.8 465.9,106.3 470.3,98.8 474.7,115.2 479.1,122.8 483.5,147.1 487.9,174.7 492.3,231.7 496.7,288.6 501.0,310.8 505.4,263.9 509.8,299.7 514.2,245.5 518.6,250.7 523.0,259.4 527.4,315.0 531.8,310.7 536.2,334.5 540.5,329.6 544.9,359.3 549.3,409.9 553.7,418.0 558.1,411.5 562.5,392.9 566.9,339.9 571.3,328.9 575.6,329.0 580.0,366.2 584.4,344.4 588.8,329.5 593.2,334.9 597.6,324.5 602.0,291.1 606.4,296.7 610.7,293.8 615.1,311.6 619.5,317.6 623.9,323.4 628.3,335.6 632.7,312.6 637.1,311.5 641.5,287.5 645.9,269.4 650.2,262.4 654.6,245.2 659.0,236.1 663.4,252.8 667.8,231.2 672.2,212.2 676.6,203.2 681.0,196.6 685.3,201.1" fill="none" stroke="#cc0a3c" stroke-width="1.65" stroke-linejoin="round" stroke-linecap="butt"/>
<polyline points="35.9,236.5 40.3,216.1 44.7,218.3 49.1,208.6 53.5,206.9 57.9,222.3 62.2,252.0 66.6,270.5 71.0,251.0 75.4,260.1 79.8,273.2 84.2,256.8 88.6,239.6 93.0,240.3 97.4,247.3 101.7,220.7 106.1,193.4 110.5,208.2 114.9,181.8 119.3,142.4 123.7,159.5 128.1,138.3 132.5,150.5 136.8,122.4 141.2,123.1 145.6,93.3 150.0,62.3 154.4,36.8 158.8,69.3 163.2,88.6 167.6,125.6 171.9,231.8 176.3,290.9 180.7,344.5 185.1,362.7 189.5,343.5 193.9,315.6 198.3,307.8 202.7,237.8 207.1,223.7 211.4,225.4 215.8,223.4 220.2,220.9 224.6,197.6 229.0,196.6 233.4,189.5 237.8,212.4 242.2,188.5 246.5,175.0 250.9,167.4 255.3,208.4 259.7,202.4 264.1,190.9 268.5,216.0 272.9,187.4 277.3,182.6 281.6,173.9 286.0,151.6 290.4,149.2 294.8,135.6 299.2,109.8 303.6,92.2 308.0,120.1 312.4,139.9 316.8,139.1 321.1,159.2 325.5,190.0 329.9,146.3 334.3,126.3 338.7,130.5 343.1,131.4 347.5,108.9 351.9,119.3 356.2,114.5 360.6,166.2 365.0,171.2 369.4,161.5 373.8,137.0 378.2,149.2 382.6,167.1 387.0,158.9 391.3,150.3 395.7,134.1 400.1,149.6 404.5,134.9 408.9,145.5 413.3,149.8 417.7,136.7 422.1,114.1 426.5,107.5 430.8,121.1 435.2,137.2 439.6,147.6 444.0,131.6 448.4,134.1 452.8,120.4 457.2,123.1 461.6,128.0 465.9,120.1 470.3,113.2 474.7,132.3 479.1,138.4 483.5,152.2 487.9,185.5 492.3,238.5 496.7,296.7 501.0,323.4 505.4,315.1 509.8,327.0 514.2,266.4 518.6,263.4 523.0,267.1 527.4,331.7 531.8,323.1 536.2,339.6 540.5,332.8 544.9,362.9 549.3,394.5 553.7,418.0 558.1,417.0 562.5,385.2 566.9,336.7 571.3,318.7 575.6,322.9 580.0,363.2 584.4,343.9 588.8,323.4 593.2,331.2 597.6,316.8 602.0,294.5 606.4,299.1 610.7,293.0 615.1,310.6 619.5,317.4 623.9,323.0 628.3,336.0 632.7,312.9 637.1,329.1 641.5,304.9 645.9,291.2 650.2,276.6 654.6,262.8 659.0,244.3 663.4,257.5 667.8,243.4 672.2,228.8 676.6,234.9 681.0,207.8 685.3,208.9" fill="none" stroke="#101090" stroke-width="1.65" stroke-linejoin="round" stroke-linecap="butt"/>
</g>
<rect x="39" y="30" width="146" height="11.6" fill="#fff"/><rect x="39" y="41.5" width="76.5" height="10.3" fill="#fff"/><rect x="39" y="51.7" width="68.3" height="10.2" fill="#fff"/>
<g shape-rendering="crispEdges"><rect x="41" y="35" width="9" height="2" fill="#000090"/><rect x="41" y="45" width="8" height="2" fill="#cc0033"/><rect x="41" y="55" width="8" height="2" fill="#006600"/></g>
<text transform="translate(53.4,40.3) scale(1.12,1)" x="0" y="0" font-size="10.4" textLength="116" lengthAdjust="spacing" style="stroke:#000;stroke-width:0.1">$WTIC (Monthly) 73.85</text>
<text x="52" y="49.9" font-size="9.2" textLength="62.3" lengthAdjust="spacing" style="fill:#cc0033;stroke:#cc0033;stroke-width:0.25">$BRENT 78.19</text>
<text x="52" y="59.8" font-size="9.2" textLength="54.3" lengthAdjust="spacing" style="fill:#006600;stroke:#006600;stroke-width:0.25">$GASO 2.15</text>
<text x="38.4" y="14.8" font-size="14" font-weight="bold" textLength="40.6" lengthAdjust="spacingAndGlyphs">$WTIC</text>
<text x="82.7" y="13.9" font-size="10.7" textLength="209.9" lengthAdjust="spacingAndGlyphs">Light Crude Oil - Continuous Contract (EOD)</text>
<text x="297.6" y="13.9" font-size="9" textLength="21.4" lengthAdjust="spacingAndGlyphs">CME</text>
<text x="37.7" y="27.1" font-size="10.2" textLength="49.3" lengthAdjust="spacingAndGlyphs">9-Jul-2018</text>
<text x="261.1" y="26.9" font-size="10.6" font-weight="bold" textLength="27.4" lengthAdjust="spacingAndGlyphs">Open</text>
<text x="293" y="26.9" font-size="10.4" textLength="25.4" lengthAdjust="spacingAndGlyphs">73.62</text>
<text x="325.9" y="26.9" font-size="10.6" font-weight="bold" textLength="22.6" lengthAdjust="spacingAndGlyphs">High</text>
<text x="352.9" y="26.9" font-size="10.4" textLength="25.5" lengthAdjust="spacingAndGlyphs">75.27</text>
<text x="386.3" y="26.9" font-size="10.6" font-weight="bold" textLength="22.2" lengthAdjust="spacingAndGlyphs">Low</text>
<text x="413" y="26.9" font-size="10.4" textLength="26.7" lengthAdjust="spacingAndGlyphs">72.14</text>
<text x="445.9" y="26.9" font-size="10.6" font-weight="bold" textLength="30.6" lengthAdjust="spacingAndGlyphs">Close</text>
<text x="481" y="26.9" font-size="10.4" textLength="26.3" lengthAdjust="spacingAndGlyphs">73.85</text>
<text x="513.9" y="26.9" font-size="10.6" font-weight="bold" textLength="41.9" lengthAdjust="spacingAndGlyphs">Volume</text>
<text x="590.4" y="26.9" font-size="10.6" font-weight="bold" textLength="20.6" lengthAdjust="spacingAndGlyphs">Chg</text>
<text x="614.6" y="26.9" font-size="10.4" textLength="66.5" lengthAdjust="spacingAndGlyphs">-0.30 (-0.40%)</text>
<text x="559.4" y="26.9" font-size="10.2" textLength="23.8" lengthAdjust="spacingAndGlyphs">3.3M</text>
<path d="M684.1 22 L691.5 22 L687.8 26.2 Z" fill="#a0002a"/>
<text x="601.7" y="13.9" font-size="11" textLength="89.8" lengthAdjust="spacingAndGlyphs" style="fill:#505050;stroke:#505050;stroke-width:0.25">© StockCharts.com</text>
<g shape-rendering="crispEdges"><rect x="79" y="439" width="1" height="1" fill="#dcdcdc"/><rect x="132" y="439" width="1" height="1" fill="#dcdcdc"/><rect x="185" y="439" width="1" height="1" fill="#dcdcdc"/><rect x="237" y="439" width="1" height="1" fill="#dcdcdc"/><rect x="290" y="439" width="1" height="1" fill="#dcdcdc"/><rect x="343" y="439" width="1" height="1" fill="#dcdcdc"/><rect x="395" y="439" width="1" height="1" fill="#dcdcdc"/><rect x="448" y="439" width="1" height="1" fill="#dcdcdc"/><rect x="500" y="439" width="1" height="1" fill="#dcdcdc"/><rect x="553" y="439" width="1" height="1" fill="#dcdcdc"/><rect x="606" y="439" width="1" height="1" fill="#dcdcdc"/><rect x="658" y="439" width="1" height="1" fill="#dcdcdc"/><rect x="53" y="439" width="1" height="1" fill="#dcdcdc"/><rect x="106" y="439" width="1" height="1" fill="#dcdcdc"/><rect x="158" y="439" width="1" height="1" fill="#dcdcdc"/><rect x="211" y="439" width="1" height="1" fill="#dcdcdc"/><rect x="264" y="439" width="1" height="1" fill="#dcdcdc"/><rect x="316" y="439" width="1" height="1" fill="#dcdcdc"/><rect x="369" y="439" width="1" height="1" fill="#dcdcdc"/><rect x="422" y="439" width="1" height="1" fill="#dcdcdc"/><rect x="474" y="439" width="1" height="1" fill="#dcdcdc"/><rect x="527" y="439" width="1" height="1" fill="#dcdcdc"/><rect x="579" y="439" width="1" height="1" fill="#dcdcdc"/><rect x="632" y="439" width="1" height="1" fill="#dcdcdc"/><rect x="685" y="439" width="1" height="1" fill="#dcdcdc"/></g>
<rect x="0.5" y="0.5" width="729" height="441" fill="none" stroke="#000" stroke-width="1" shape-rendering="crispEdges"/>
</svg></body></html>
